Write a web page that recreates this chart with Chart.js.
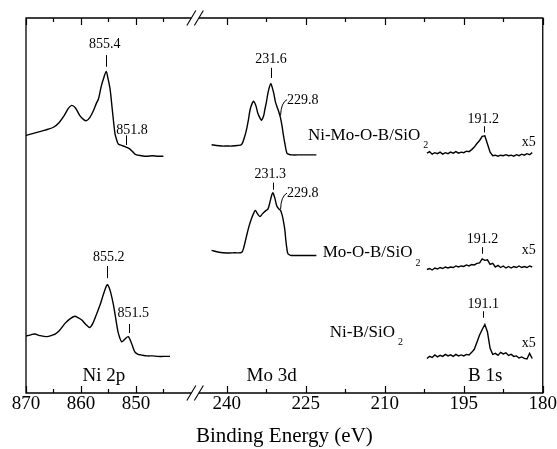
<!DOCTYPE html>
<html>
<head>
<meta charset="utf-8">
<script src="https://cdn.jsdelivr.net/npm/chart.js@4.4.0/dist/chart.umd.min.js"></script>
<style>
  body { margin: 0; background: #fff; }
  canvas { display: block; }
</style>
</head>
<body>
<canvas id="xps" width="557" height="449"></canvas>
<script>
// x axis ticks (binding energy, eV)
const leftTicks = [870, 860, 850];
const leftMinor = [865, 855, 845];
const rightTicks = [240, 225, 210, 195, 180];
const rightMinor = [232.5, 217.5, 202.5, 187.5];
const tickLabels = ["870", "860", "850", "240", "225", "210", "195", "180"];

// Ni 2p
const niMoNi2pE = [870, 869, 868, 867, 866, 865, 864, 863, 862.3, 861.7, 861, 860.2, 859.5, 859, 858.4, 857.8, 857.2, 856.8, 856.3, 855.8, 855.4, 855.1, 854.7, 854.3, 853.8, 853.5, 853.2, 852.5, 851.8, 851.2, 850.6, 850, 849, 848, 847, 846, 845];
const niMoNi2pI = [252.5, 254, 255.5, 257, 258.5, 260.5, 265, 272.5, 279, 282, 279.5, 272, 268, 267, 270, 276, 284, 288.5, 301, 310, 315.5, 309, 298, 278, 254, 248, 244, 242.5, 241, 239.5, 236.5, 233.5, 232.5, 232, 232.5, 232, 232];
const niBNi2pE = [870, 869, 868.4, 867.5, 866.2, 865.2, 864.7, 864, 862.9, 862, 861.1, 860.5, 859.9, 859.2, 858.4, 857.8, 857.2, 856.5, 855.8, 855.2, 854.7, 854.1, 853.6, 853.2, 852.6, 852, 851.4, 850.8, 850.2, 849.6, 849.1, 848, 847, 846, 845, 843.8];
const niBNi2pI = [55, 56.5, 57, 55.5, 54.5, 56, 57, 60, 67.5, 72, 74.5, 73, 71, 67, 63.5, 68, 76, 86, 98, 105.5, 100, 86, 70, 58, 49.5, 52, 54.5, 48, 39.5, 37, 36.5, 35.5, 35.5, 35, 35, 35];

// Mo 3d
const niMoMo3dE = [242.9, 242, 241, 240, 239, 238, 237.2, 236.7, 236.3, 235.9, 235.6, 235.2, 234.9, 234.5, 234.1, 233.7, 233.4, 233, 232.8, 232.5, 232.2, 231.9, 231.65, 231.4, 231.1, 230.8, 230.5, 230.1, 229.8, 229.5, 229.3, 229, 228.6, 228.2, 227.7, 226, 225, 223];
const niMoMo3dI = [243.3, 242.5, 242, 242, 242, 242.5, 243.5, 250, 257.5, 268, 277.5, 284, 286, 282, 274, 269.5, 267.5, 272, 277.5, 285, 294, 300.5, 303.5, 300, 294, 286, 281, 275, 269.5, 261, 254, 245, 235, 233.8, 233.3, 233.3, 233.3, 233.3];
const moMo3dE = [242.9, 241.5, 240, 238.5, 237.2, 236.8, 236.3, 235.8, 235.3, 234.9, 234.6, 234.2, 233.7, 233.3, 233, 232.6, 232.2, 231.9, 231.7, 231.3, 230.9, 230.5, 230.1, 229.8, 229.5, 229.3, 229, 228.8, 228.6, 228.4, 227.9, 227.4, 225, 223];
const moMo3dI = [139.3, 137.5, 136.7, 137, 137.3, 142, 152.7, 163, 171, 176, 178.7, 175.5, 172.7, 175, 176.7, 178.5, 180, 185, 189.3, 196, 191, 182.7, 180, 178.7, 174, 169.3, 160, 149.3, 141, 136, 134.5, 134.3, 134.3, 134.3];

// B 1s (x5)
const b1sE = [202, 201.5, 201, 200.5, 200, 199.5, 199, 198.5, 198, 197.5, 197, 196.5, 196, 195.5, 195, 194.5, 194, 193.5, 193, 192.5, 192, 191.5, 191, 190.5, 190, 189.5, 189, 188.5, 188, 187.5, 187, 186.5, 186, 185.5, 185, 184.5, 184, 183.5, 183, 182.5, 182];
const niMoB1sI = [235, 236.5, 234, 235.5, 234.5, 236, 234, 235.5, 234.5, 236, 235, 236.5, 235, 236, 235.5, 237, 236.5, 238.5, 241, 244.5, 247.5, 251.5, 252, 244, 236, 232.5, 233, 232, 233, 232.5, 233.5, 232.5, 233, 232, 233.5, 232.5, 234, 233, 234.5, 233.5, 235.5];
const moB1sI = [120.5, 121.5, 120, 122, 121, 122.5, 121.5, 123, 122, 123, 122.5, 124, 123, 124, 123.5, 125, 124, 125.5, 125, 126.5, 127, 131, 129.5, 130, 125.5, 126.5, 123, 124.5, 122.5, 124, 122, 123.5, 122, 123.5, 122.5, 124, 122.5, 123.5, 122.5, 124, 123];
const niBB1sI = [33, 35, 34, 36.5, 34.5, 36, 35, 37, 35.5, 36.5, 35, 37, 35.5, 36.5, 35.5, 37, 36.5, 39, 42, 49, 56, 61.5, 66.5, 59, 43, 37, 38, 36, 39, 37.5, 38.5, 36, 37, 35, 35.5, 33.5, 34.5, 33, 32.5, 38, 33];

const peakLabels = ["855.4", "851.8", "855.2", "851.5", "231.6", "231.3", "191.2", "191.2", "191.1"];
const sampleNames = ["Ni-Mo-O-B/SiO", "Mo-O-B/SiO", "Ni-B/SiO"];
const regionNames = ["Ni 2p", "Mo 3d", "B 1s"];

// broken axis: left part 10 eV per unit step, right part compressed
const BREAK_U = 30.77;
function toU(E) {
    return E > 500 ? 870 - E : 36.55 + (240 - E) * 0.958;
}
const majorTicks = leftTicks.concat(rightTicks);
const minorTicks = leftMinor.concat(rightMinor);

function series(E, I, smooth) {
    return {
        data: E.map((e, i) => ({ x: toU(e), y: I[i] })),
        borderColor: "#000",
        borderWidth: 1.4,
        pointRadius: 0,
        tension: smooth ? 0.3 : 0,
        fill: false
    };
}

const serif = "'Liberation Serif', 'Times New Roman', serif";

// peak markers: text, marker energy, text baseline / marker top / marker bottom heights, text x shift
const markers = [
    { t: 0, E: 855.4, ht: 338, h1: 331.5, h2: 320, dx: -1.5 },
    { t: 1, E: 851.8, ht: 254.3, h1: 252.5, h2: 243, dx: 6 },
    { t: 2, E: 855.2, ht: 128.7, h1: 124, h2: 112, dx: 1.5 },
    { t: 3, E: 851.2, ht: 74, h1: 67, h2: 58, dx: 4 },
    { t: 4, E: 231.6, ht: 324, h1: 319, h2: 309, dx: 0 },
    { t: 5, E: 231.3, ht: 211, h1: 206, h2: 199, dx: -2.5 },
    { t: 6, E: 191.22, ht: 264.3, h1: 261.5, h2: 255.5, dx: -0.5 },
    { t: 7, E: 191.45, ht: 146.7, h1: 142.5, h2: 136, dx: 0 },
    { t: 8, E: 191.3, ht: 82.7, h1: 79.5, h2: 73, dx: 0 }
];
const leaders = [
    { text: "229.8", E: 229.8, h: 272 },
    { text: "229.8", E: 229.8, h: 180 }
];
const samples = [
    { E: 224.6, h: 248 },
    { E: 221.8, h: 132.7 },
    { E: 220.45, h: 54.3 }
];
const x5s = [242, 136, 44];
const regions = [859.7, 236.26, 194.2];

const decorations = {
    id: "decorations",
    afterDraw(chart) {
        const { ctx, chartArea: a, scales: { x, y } } = chart;
        const px = E => x.getPixelForValue(toU(E));
        const py = h => y.getPixelForValue(h);
        const bx = x.getPixelForValue(BREAK_U);
        ctx.save();
        ctx.strokeStyle = "#000";
        ctx.lineWidth = 1.3;

        ctx.beginPath();
        ctx.moveTo(bx - 3.75, a.top);
        ctx.lineTo(a.left, a.top);
        ctx.lineTo(a.left, a.bottom);
        ctx.lineTo(bx - 3.75, a.bottom);
        ctx.moveTo(bx + 3.75, a.top);
        ctx.lineTo(a.right, a.top);
        ctx.lineTo(a.right, a.bottom);
        ctx.lineTo(bx + 3.75, a.bottom);
        ctx.stroke();

        ctx.lineWidth = 1.1;
        ctx.beginPath();
        for (const yy of [a.top, a.bottom]) {
            for (const d of [-3.75, 3.75]) {
                ctx.moveTo(bx + d - 4.5, yy + 7.5);
                ctx.lineTo(bx + d + 4.5, yy - 7.5);
            }
        }
        ctx.stroke();

        ctx.lineWidth = 1.2;
        ctx.beginPath();
        for (const E of majorTicks) {
            const xx = Math.round(px(E)) + 0.5;
            ctx.moveTo(xx, a.bottom); ctx.lineTo(xx, a.bottom - 7);
            ctx.moveTo(xx, a.top); ctx.lineTo(xx, a.top + 7);
        }
        for (const E of minorTicks) {
            const xx = Math.round(px(E)) + 0.5;
            ctx.moveTo(xx, a.bottom); ctx.lineTo(xx, a.bottom - 4);
            ctx.moveTo(xx, a.top); ctx.lineTo(xx, a.top + 4);
        }
        ctx.stroke();

        ctx.fillStyle = "#000";
        ctx.font = "14px " + serif;
        ctx.textBaseline = "alphabetic";
        ctx.lineWidth = 1;
        for (const m of markers) {
            const xx = px(m.E);
            ctx.textAlign = "center";
            ctx.fillText(peakLabels[m.t], xx + m.dx, py(m.ht));
            ctx.beginPath();
            ctx.moveTo(Math.round(xx) + 0.5, py(m.h1));
            ctx.lineTo(Math.round(xx) + 0.5, py(m.h2));
            ctx.stroke();
        }
        for (const l of leaders) {
            const sx = px(l.E), sy = py(l.h);
            ctx.beginPath();
            ctx.moveTo(sx, sy);
            ctx.quadraticCurveTo(sx + 0.5, sy - 13, sx + 6.5, sy - 16);
            ctx.stroke();
            ctx.textAlign = "left";
            ctx.fillText(l.text, sx + 6.5, sy - 12);
        }
        ctx.textAlign = "left";
        for (const h of x5s) {
            ctx.fillText("x5", px(184.0), py(h));
        }

        samples.forEach((s, i) => {
            ctx.font = "17px " + serif;
            const sx = px(s.E), sy = py(s.h);
            ctx.fillText(sampleNames[i], sx, sy);
            const w = ctx.measureText(sampleNames[i]).width;
            ctx.font = "10px " + serif;
            ctx.fillText("2", sx + w + 3, sy + 8.5);
        });

        ctx.font = "19px " + serif;
        regions.forEach((E, i) => {
            ctx.fillText(regionNames[i], px(E), py(11));
        });
        ctx.restore();
    }
};

const ctx = document.getElementById("xps").getContext("2d");
new Chart(ctx, {
    type: "line",
    data: {
        datasets: [
            series(niMoNi2pE, niMoNi2pI, true),
            series(niBNi2pE, niBNi2pI, true),
            series(niMoMo3dE, niMoMo3dI, true),
            series(moMo3dE, moMo3dI, true),
            series(b1sE, niMoB1sI, false),
            series(b1sE, moB1sI, false),
            series(b1sE, niBB1sI, false)
        ]
    },
    options: {
        responsive: false,
        animation: false,
        layout: { padding: { left: 26, right: 14, top: 18, bottom: 0 } },
        plugins: {
            legend: { display: false },
            tooltip: { enabled: false }
        },
        scales: {
            x: {
                type: "linear",
                min: 0,
                max: toU(180),
                grid: { display: false, drawTicks: false },
                border: { display: false },
                afterBuildTicks: scale => {
                    scale.ticks = majorTicks.map(E => ({ value: toU(E) }));
                },
                ticks: {
                    autoSkip: false,
                    maxRotation: 0,
                    padding: 0,
                    color: "#000",
                    font: { family: serif, size: 19 },
                    callback: (v, i) => tickLabels[i]
                },
                title: {
                    display: true,
                    text: "Binding Energy (eV)",
                    color: "#000",
                    font: { family: serif, size: 21 },
                    padding: { top: 8, bottom: 0 }
                }
            },
            y: {
                display: false,
                min: -1,
                max: 368
            }
        }
    },
    plugins: [decorations]
});
</script>
</body>
</html>
